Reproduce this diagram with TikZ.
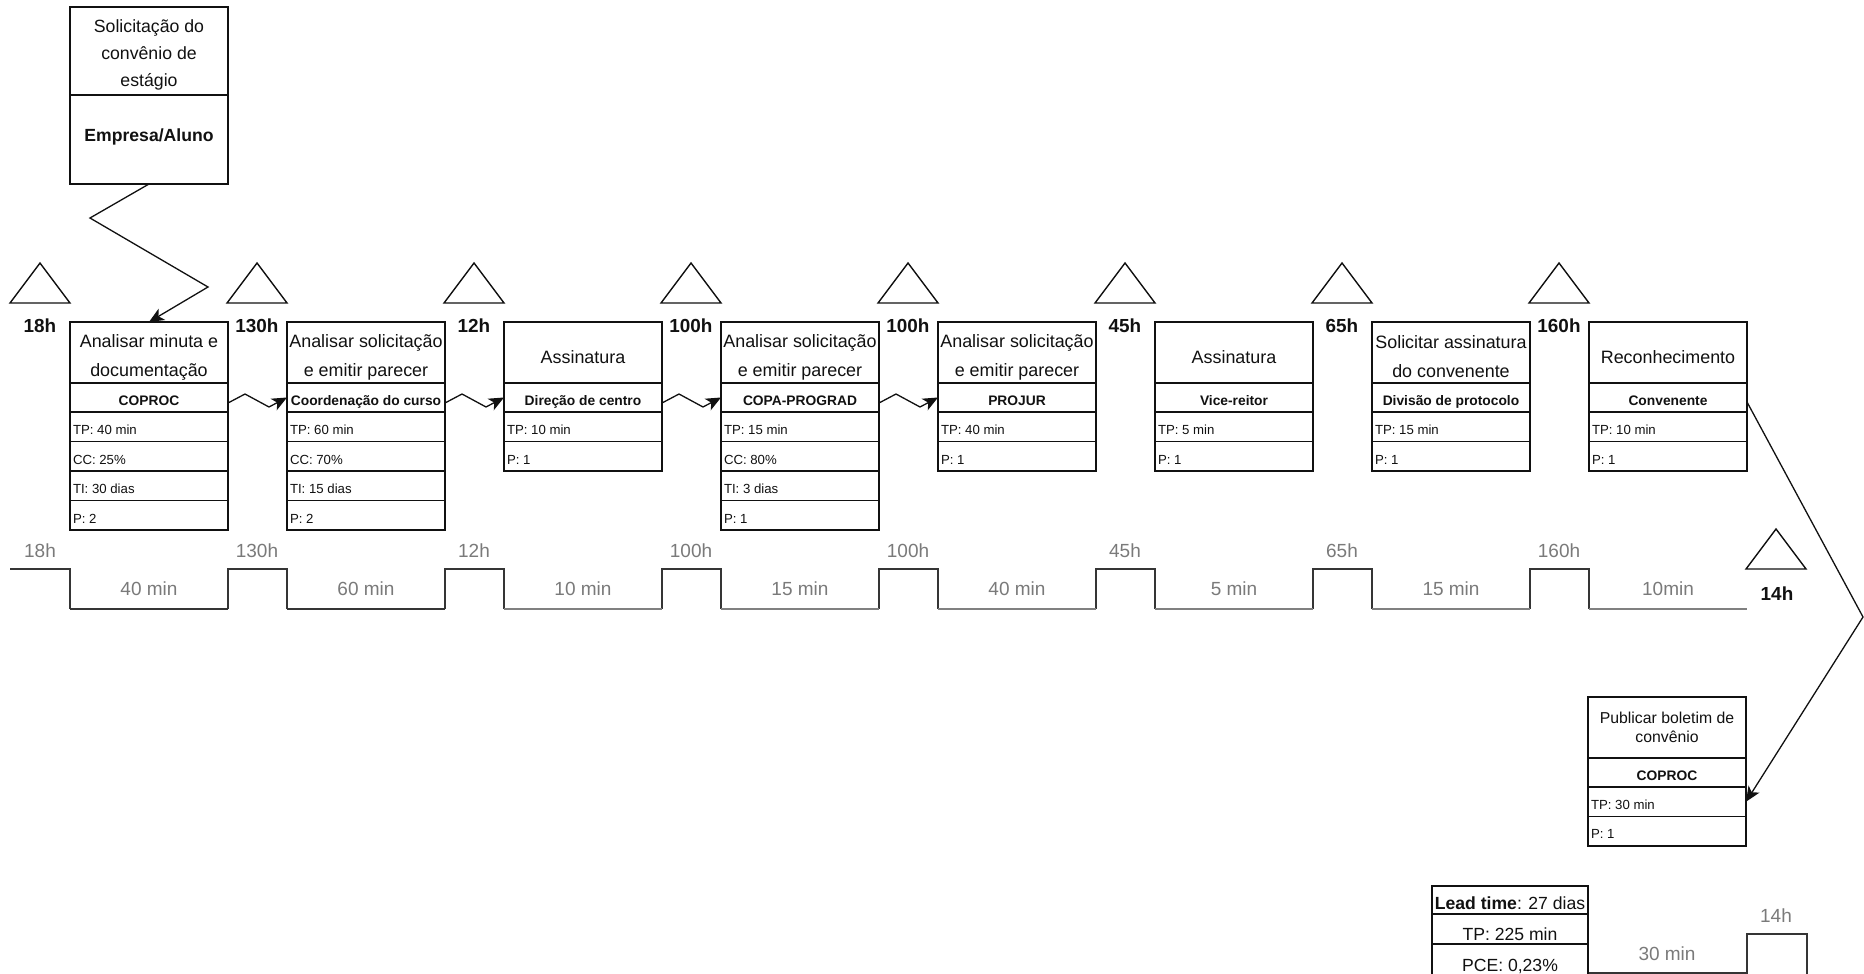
\documentclass[tikz,border=0pt]{standalone}
\usepackage{fontspec}
\setmainfont{Liberation Sans}
\usetikzlibrary{arrows.meta,calc}
\definecolor{tlgray}{HTML}{808080}
\definecolor{lbgray}{HTML}{7A7A7A}
\definecolor{ink}{HTML}{111111}
\tikzset{
  every node/.style={inner sep=0pt, outer sep=0pt, text=ink},
  vbox/.style={draw=ink, line width=0.85pt, fill=white, minimum width=79pt, anchor=north west},
  ttlbox/.style={vbox, minimum height=30.5pt},
  ownbox/.style={vbox, minimum height=14.5pt},
  rowbox/.style={vbox, minimum height=14.75pt},
  ttltext/.style={font=\fontsize{8.95}{14.5}\selectfont, align=center},
  owntext/.style={font=\fontsize{6.9}{8}\selectfont\bfseries, text height=4.9pt, text depth=0pt},
  rowtext/.style={font=\fontsize{6.6}{8}\selectfont, text height=4.7pt, text depth=0pt, anchor=west},
  tri/.style={draw=ink, line width=0.7pt, fill=white},
  invlabel/.style={font=\fontsize{9.45}{11}\selectfont\bfseries, text height=6.8pt, text depth=0pt},
  glabel/.style={font=\fontsize{9.5}{11}\selectfont, text=lbgray, text height=6.8pt, text depth=0pt},
  tlhi/.style={draw=ink!85, line width=0.75pt},
  tllo/.style={draw=tlgray, line width=0.75pt},
  conn/.style={draw=ink, line width=0.65pt, -{Stealth[length=7.5pt,width=6.5pt,inset=2pt]}},
}
\newcommand\vsmproc[5]{%
  \pgfmathsetmacro\vL{#2}%
  \pgfmathsetmacro\vC{#2+79}%
  \node[ttlbox] (#1t) at (\vL,322) {};
  \node[ttltext] (#1tt) at (\vC,357) {#3};
  \node[ownbox] (#1o) at (\vL,383) {};
  \node[owntext] (#1ot) at (\vC,401) {#4};
  \foreach \r [count=\k] in {#5}{%
    \node[rowbox] (#1r\k) at (\vL,{412+29.5*(\k-1)}) {};
    \node[rowtext] (#1rt\k) at ({\vL+3},{430+29.5*(\k-1)}) {\r};
  }%
}
\begin{document}
\begin{tikzpicture}[x=0.5pt,y=-0.5pt]
\useasboundingbox (0,0) rectangle (1864,974);
\fill[white] (0,0) rectangle (1864,974);
\clip (0,0) rectangle (1864,974);

% supplier box
\node[vbox, minimum height=44pt] (solt) at (70,7) {};
\node[font=\fontsize{8.85}{13.5}\selectfont, align=center] (soltt) at (149,55) {Solicitação do\\convênio de\\estágio};
\node[vbox, minimum height=44.5pt] (solo) at (70,95) {};
\node[font=\fontsize{8.8}{10}\selectfont\bfseries, text height=6.3pt, text depth=0pt] (solot) at (149,135) {Empresa/Aluno};

% process boxes
\vsmproc{pa}{70}{Analisar minuta e\\documentação}{COPROC}{TP: 40 min, CC: 25\%, TI: 30 dias, P: 2}
\vsmproc{pb}{287}{Analisar solicitação\\e emitir parecer}{Coordenação do curso}{TP: 60 min, CC: 70\%, TI: 15 dias, P: 2}
\vsmproc{pc}{504}{Assinatura}{Direção de centro}{TP: 10 min, P: 1}
\vsmproc{pd}{721}{Analisar solicitação\\e emitir parecer}{COPA-PROGRAD}{TP: 15 min, CC: 80\%, TI: 3 dias, P: 1}
\vsmproc{pe}{938}{Analisar solicitação\\e emitir parecer}{PROJUR}{TP: 40 min, P: 1}
\vsmproc{pf}{1155}{Assinatura}{Vice-reitor}{TP: 5 min, P: 1}
\vsmproc{pg}{1372}{Solicitar assinatura\\do convenente}{Divisão de protocolo}{TP: 15 min, P: 1}
\vsmproc{ph}{1589}{Reconhecimento}{Convenente}{TP: 10 min, P: 1}

% publicar box
\node[ttlbox] (pubt) at (1588,697) {};
\node[font=\fontsize{7.9}{9.5}\selectfont, align=center] (pubtt) at (1667,727.5) {Publicar boletim de\\convênio};
\node[ownbox] (pubo) at (1588,758) {};
\node[owntext] (pubot) at (1667,776) {COPROC};
\node[rowbox] (pubr1) at (1588,787) {};
\node[rowtext] (pubrt1) at (1591,804.5) {TP: 30 min};
\node[rowbox] (pubr2) at (1588,816.5) {};
\node[rowtext] (pubrt2) at (1591,834) {P: 1};

% inventory triangles and labels
\foreach \n/\lab in {0/18h,1/130h,2/12h,3/100h,4/100h,5/45h,6/65h,7/160h}{
  \pgfmathsetmacro\tx{40+217*\n}
  \draw[tri] ({\tx-30},303) -- (\tx,263) -- ({\tx+30},303) -- cycle;
  \node[invlabel] (inv\n) at (\tx,326) {\lab};
  \node[glabel] (tl\n) at (\tx,551) {\lab};
}
\draw[tri] (1746,569) -- (1776,529) -- (1806,569) -- cycle;
\node[invlabel] (inv8) at (1777,594) {14h};

% timeline
\draw[tlhi] (10,569) -- (70,569) -- (70,609);
\foreach \n in {1,...,7}{
  \draw[tlhi] ({228+217*(\n-1)},609) -- ++(0,-40) -- ++(59,0) -- ++(0,40);
}
\draw[tlhi] (70,609) -- (228,609);
\draw[tlhi] (287,609) -- (445,609);
\foreach \n in {2,...,7}{
  \draw[tllo] ({70+217*\n},609) -- ({228+217*\n},609);
}
\foreach \n/\lab in {0/40 min,1/60 min,2/10 min,3/15 min,4/40 min,5/5 min,6/15 min,7/10min}{
  \node[glabel] (dur\n) at ({149+217*\n},589) {\lab};
}

% bottom-right partial timeline
\draw[tlhi] (1588,934) -- (1588,973) -- (1747,973) -- (1747,934) -- (1807,934) -- (1807,990);
\node[glabel] (dur8) at (1667,954) {30 min};
\node[glabel] (tl8) at (1776,916) {14h};

% lead time box
\node[vbox, minimum width=78pt, minimum height=14pt] (lt1) at (1432,886) {};
\node[vbox, minimum width=78pt, minimum height=15pt] (lt2) at (1432,914) {};
\node[vbox, minimum width=78pt, minimum height=30pt] (lt3) at (1432,944) {};
\node[font=\fontsize{8.8}{10}\selectfont, text height=6.3pt, text depth=0pt] (lt1t) at (1510,903) {\textbf{Lead time}: 27 dias};
\node[font=\fontsize{8.8}{10}\selectfont, text height=6.3pt, text depth=0pt] (lt2t) at (1510,934) {TP: 225 min};
\node[font=\fontsize{8.8}{10}\selectfont, text height=6.3pt, text depth=0pt] (lt3t) at (1510,965) {PCE: 0,23\%};

% connectors
\draw[conn] (solo.south) -- ++(-59,34) -- ++(118,69) -- (pat.north);
\draw[conn] ($(pao.east)+(0,5.5)$) -- ++(17,-9) -- ++(24,13) -- (pbo.west);
\draw[conn] ($(pbo.east)+(0,5.5)$) -- ++(17,-9) -- ++(24,13) -- (pco.west);
\draw[conn] ($(pco.east)+(0,5.5)$) -- ++(17,-9) -- ++(24,13) -- (pdo.west);
\draw[conn] ($(pdo.east)+(0,5.5)$) -- ++(17,-9) -- ++(24,13) -- (peo.west);
\draw[conn] ($(pho.east)+(0,4.5)$) -- ++(116,215) -- (pubr1.east);
\end{tikzpicture}
\end{document}
